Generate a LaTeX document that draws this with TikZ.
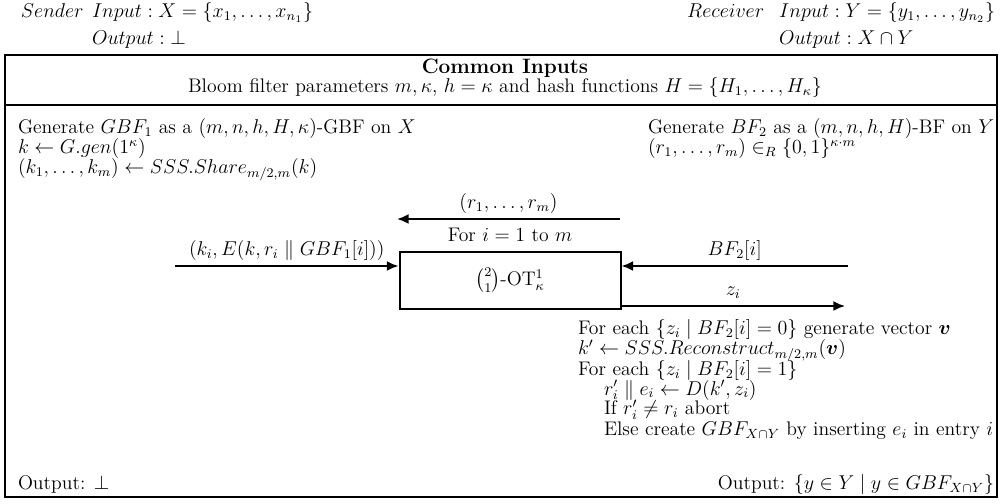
\documentclass[tikz,border=0pt]{standalone}
\usepackage{amsmath,amssymb}
\usetikzlibrary{arrows.meta}
\newcommand{\bodyfont}{\fontsize{11.8}{12.3}\selectfont}
\begin{document}
\begin{tikzpicture}[x=0.6pt,y=-0.6pt,
  every node/.style={font=\bodyfont},
  txt/.style={inner sep=0pt, outer sep=0pt},
  ln/.style={inner sep=0pt, outer sep=0pt, anchor=base west},
  frame/.style={line width=1.3pt},
  arr/.style={line width=1.2pt, -{Latex[length=7pt,width=6pt]}},
  otbox/.style={draw, line width=1.2pt, minimum width=221*0.6pt, minimum height=57*0.6pt, inner sep=0pt}]
\useasboundingbox (0,0) rectangle (1002,504);
% header
\node[ln] (sname) at (21,18) {$Sender$};
\node[ln] (sin) at (92,18) {$Input : X = \{x_1, \ldots, x_{n_1}\}$};
\node[ln] (sout) at (92,45) {$Output : \bot$};
\node[txt, anchor=base east] (rin) at (995,18) {$Input : Y = \{y_1, \ldots, y_{n_2}\}$};
\node[txt, anchor=base east] (rname) at ([xshift=-9pt]rin.base west) {$Receiver$};
\node[ln] (rout) at (rin.west |- 0,45) {$Output : X \cap Y$};
% frames
\draw[frame] (5,55) rectangle (997,497);
\draw[frame] (5,105) -- (997,105);
\node[txt, anchor=base, font=\fontsize{12.5}{13}\selectfont\bfseries] (title) at (505,74) {Common Inputs};
\node[txt, anchor=base] (params) at (505,93) {Bloom filter parameters $m, \kappa$, $h = \kappa$ and hash functions $H = \{H_1, \ldots, H_\kappa\}$};
% sender block
\node[ln] (s1) at (18,134) {Generate $GBF_1$ as a $(m,n,h,H,\kappa)$-GBF on $X$};
\node[ln] (s2) at (18,154) {$k \leftarrow G.gen(1^\kappa)$};
\node[ln] (s3) at (18,174) {$(k_1, \ldots, k_m) \leftarrow SSS.Share_{m/2,m}(k)$};
% receiver block
\node[ln] (r1) at (648,134) {Generate $BF_2$ as a $(m,n,h,H)$-BF on $Y$};
\node[ln] (r2) at (648,154) {$(r_1, \ldots, r_m) \in_R \{0,1\}^{\kappa\cdot m}$};
% OT box
\node[otbox] (ot) at (510,280.5) {$\binom{2}{1}$-OT$^1_\kappa$};
\coordinate (rstart) at (620,219);
\coordinate (rend) at (397,219);
\draw[arr] (rstart) -- (rend) node[txt, midway, anchor=base, yshift=6.5pt] (rlab) {$(r_1, \ldots, r_m)$};
\node[txt, anchor=base] (forlab) at (510,242) {For $i = 1$ to $m$};
\coordinate (lin) at (175,266);
\draw[arr] (lin) -- (lin -| ot.west) node[txt, midway, anchor=base, yshift=6.5pt] (klab) {$(k_i, E(k, r_i \parallel GBF_1[i]))$};
\coordinate (bin) at (848,266);
\draw[arr] (bin) -- (bin -| ot.east) node[txt, midway, anchor=base, yshift=6.5pt] (blab) {$BF_2[i]$};
\coordinate (zout) at (845,306);
\draw[arr] (zout -| ot.east) -- (zout) node[txt, midway, anchor=base, yshift=6.5pt] (zlab) {$z_i$};
% receiver final block
\node[ln] (f1) at (578,335) {For each $\{z_i \mid BF_2[i] = 0\}$ generate vector $\boldsymbol{v}$};
\node[ln] (f2) at (578,355) {$k' \leftarrow SSS.Reconstruct_{m/2,m}(\boldsymbol{v})$};
\node[ln] (f3) at (578,375) {For each $\{z_i \mid BF_2[i] = 1\}$};
\node[ln] (f4) at (604,395) {$r'_i \parallel e_i \leftarrow D(k', z_i)$};
\node[ln] (f5) at (604,415) {If $r'_i \neq r_i$ abort};
\node[ln] (f6) at (604,435) {Else create $GBF_{X\cap Y}$ by inserting $e_i$ in entry $i$};
\node[ln] (sres) at (18,489) {Output: $\bot$};
\node[txt, anchor=base east] (rres) at (994,489) {Output: $\{y \in Y \mid y \in GBF_{X\cap Y}\}$};
\end{tikzpicture}
\end{document}
